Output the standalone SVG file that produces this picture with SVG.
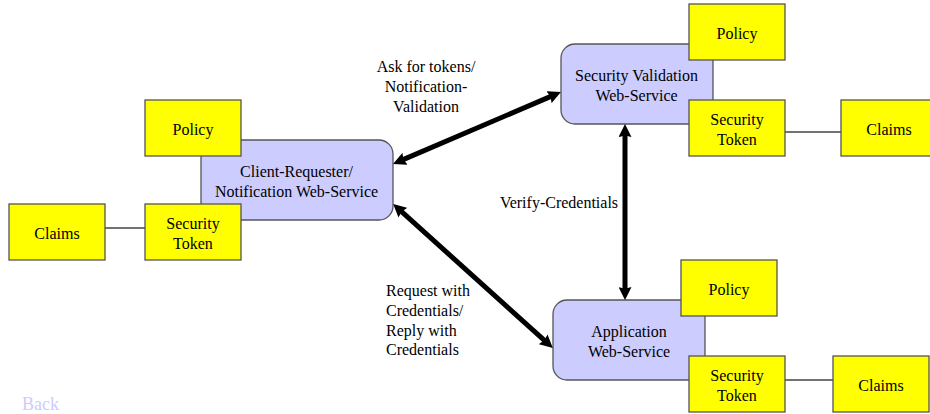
<svg xmlns="http://www.w3.org/2000/svg" width="930" height="414" viewBox="0 0 930 414">
<style>
text{font-family:"Liberation Serif","Times New Roman",serif;font-size:16px;fill:#000;text-anchor:middle;transform:translateY(.5px)}
.y{fill:#ff0;stroke:#555;stroke-width:1.3}
.s{fill:#ccf;stroke:#555;stroke-width:1.3}
.t{stroke:#444;stroke-width:1.3;fill:none}
.a{stroke:#000;stroke-width:5;fill:none;marker-start:url(#h);marker-end:url(#h)}
.l{text-anchor:start}
</style>
<defs><marker id="h" viewBox="0 0 12 12" refX="6" refY="6" markerWidth="13" markerHeight="13" markerUnits="userSpaceOnUse" orient="auto-start-reverse"><path d="M0 0L12 6L0 12L1.500 6Z" fill="#000"/></marker></defs>
<rect width="930" height="414" fill="#fff"/>
<g id="client"><rect class="s" x="201" y="140" width="192" height="80" rx="14"/><text x="296.500" y="176">Client-Requester/</text><text x="296.500" y="196">Notification Web-Service</text></g>
<g id="validation"><rect class="s" x="561" y="44" width="152" height="80" rx="14"/><text x="636.500" y="80">Security Validation</text><text x="636.500" y="100">Web-Service</text></g>
<g id="application"><rect class="s" x="553" y="300" width="152" height="80" rx="14"/><text x="629" y="336">Application</text><text x="629" y="356">Web-Service</text></g>
<g id="connectors">
<path class="t" d="M105 228H145M785 132H841M785 380H833"/>
<path class="a" d="M399 161.400L555 94.600"/>
<path class="a" d="M398 208.400L548 343.600"/>
<path class="a" d="M625 130.500V293.500"/>
</g>
<g id="policy-client"><rect class="y" x="145" y="100" width="96" height="56"/><text x="193" y="134">Policy</text></g>
<g id="token-client"><rect class="y" x="145" y="204" width="96" height="56"/><text x="193" y="228">Security</text><text x="193" y="248">Token</text></g>
<g id="claims-client"><rect class="y" x="9" y="204" width="96" height="56"/><text x="57" y="238">Claims</text></g>
<g id="policy-validation"><rect class="y" x="689" y="4" width="96" height="56"/><text x="737" y="38">Policy</text></g>
<g id="token-validation"><rect class="y" x="689" y="100" width="96" height="56"/><text x="737" y="124">Security</text><text x="737" y="144">Token</text></g>
<g id="claims-validation"><rect class="y" x="841" y="100" width="96" height="56"/><text x="889" y="134">Claims</text></g>
<g id="policy-application"><rect class="y" x="681" y="260" width="96" height="56"/><text x="729" y="294">Policy</text></g>
<g id="token-application"><rect class="y" x="689" y="356" width="96" height="56"/><text x="737" y="380">Security</text><text x="737" y="400">Token</text></g>
<g id="claims-application"><rect class="y" x="833" y="356" width="96" height="56"/><text x="881" y="390">Claims</text></g>
<g id="labels">
<text x="426" y="71">Ask for tokens/</text><text x="426" y="91">Notification-</text><text x="426" y="111">Validation</text>
<text x="559" y="207">Verify-Credentials</text>
<text class="l" x="386" y="295">Request with</text><text class="l" x="386" y="315">Credentials/</text><text class="l" x="386" y="335">Reply with</text><text class="l" x="386" y="354">Credentials</text>
<text class="l" x="22" y="409.500" style="fill:#ccf;font-size:18px">Back</text>
</g>
</svg>
